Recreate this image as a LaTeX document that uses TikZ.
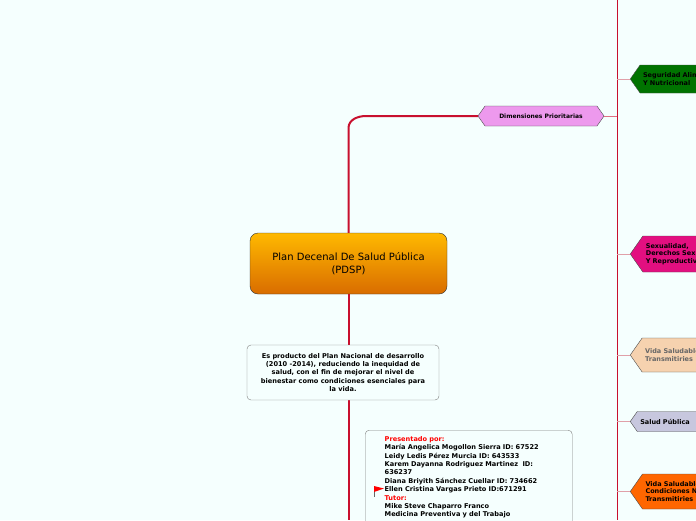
\documentclass[tikz,border=0pt]{standalone}
\usepackage{fontspec}
\setmainfont{DejaVu Sans}
\usetikzlibrary{shapes.symbols, positioning}
\definecolor{bgc}{HTML}{F5FFFE}
\definecolor{trunk}{HTML}{C8102E}
\definecolor{twig}{HTML}{E0A0A8}
\tikzset{
  dim/.style={draw=black!70, signal, signal to=west, signal pointer angle=110, inner sep=3pt, font=\fontsize{6.5}{7.5}\selectfont\bfseries},
  side/.style={dim, align=left, anchor=west, text width=120pt},
  note/.style={draw=black!50, rounded corners=4pt, fill=bgc, font=\fontsize{6.6}{8.4}\selectfont\bfseries, inner sep=4pt}
}
\begin{document}
\begin{tikzpicture}[x=1pt,y=-1pt]
\fill[bgc] (0,0) rectangle (696,520);
\clip (0,0) rectangle (696,520);
\useasboundingbox (0,0) rectangle (696,520);

\node[draw=black!80, rounded corners=8pt, top color=orange!55!yellow, bottom color=orange!85!black, minimum width=197pt, minimum height=61pt, align=center, font=\fontsize{10}{13}\selectfont] (pdsp) at (348.5,263.5) {Plan Decenal De Salud Pública\\(PDSP)};

\node[dim, signal to=west and east, fill=violet!35!magenta!40, minimum width=126pt, minimum height=20pt, align=center, font=\fontsize{6}{7}\selectfont\bfseries] (dimp) at (541,116) {Dimensiones Prioritarias};

\node[side, fill=green!45!black, minimum height=28pt] (seg) at (630,79) {Seguridad Alimentaria\\Y Nutricional};
\node[side, fill=magenta!80!purple, minimum height=36pt] (sex) at (630,254) {Sexualidad,\\Derechos Sexuales\\Y Reproductivos};
\node[side, fill=brown!40!orange!35, text=black!60, minimum height=34pt] (vid1) at (630,355) {Vida Saludable Y\\Transmitiries};
\node[side, fill=blue!25!gray!35, minimum height=20pt] (spub) at (630,421.5) {Salud Pública};
\node[side, fill=orange!80!red, minimum height=35pt] (vid2) at (630,491.5) {Vida Saludable Y\\Condiciones No\\Transmitiries};

\coordinate (top) at (617,0);
\coordinate (bot) at (617,520);
\draw[trunk, line width=0.6pt] (top) -- (bot);
\draw[trunk!60, line width=0.5pt] (dimp.east) -- (617,116);
\foreach \v in {seg, sex, vid1, spub, vid2}
  \draw[twig, line width=0.8pt] (\v.west -| top) -- (\v.west);

\draw[trunk, line width=2pt] (pdsp.north) -- (348.5,128) to[out=90,in=180] (366,116) -- (dimp.west);
\draw[trunk, line width=2pt] (pdsp.south) -- (348.5,520);

\node[note, minimum width=192pt, minimum height=55pt, align=center] (prod) at (343,372.5) {Es producto del Plan Nacional de desarrollo\\(2010 -2014), reduciendo la inequidad de\\salud, con el fin de mejorar el nivel de\\bienestar como condiciones esenciales para\\la vida.};

\node[note, text width=168pt, align=left, anchor=north west, inner sep=6pt, inner xsep=18pt, minimum width=207pt] (pres) at (365,430) {\textcolor{red}{Presentado por:}\\
María Angelica Mogollon Sierra ID: 67522\\
Leidy Ledis Pérez Murcia ID: 643533\\
Karem Dayanna Rodriguez Martinez \ ID:\\636237\\
Diana Briyith Sánchez Cuellar ID: 734662\\
Ellen Cristina Vargas Prieto ID:671291\\
\textcolor{red}{Tutor:}\\
Mike Steve Chaparro Franco\\
Medicina Preventiva y del Trabajo\\ \ };
\draw[black!60] (374,486) -- (374,497);
\fill[red] (374,486) -- (384,488.5) -- (374,492) -- cycle;
\end{tikzpicture}
\end{document}
